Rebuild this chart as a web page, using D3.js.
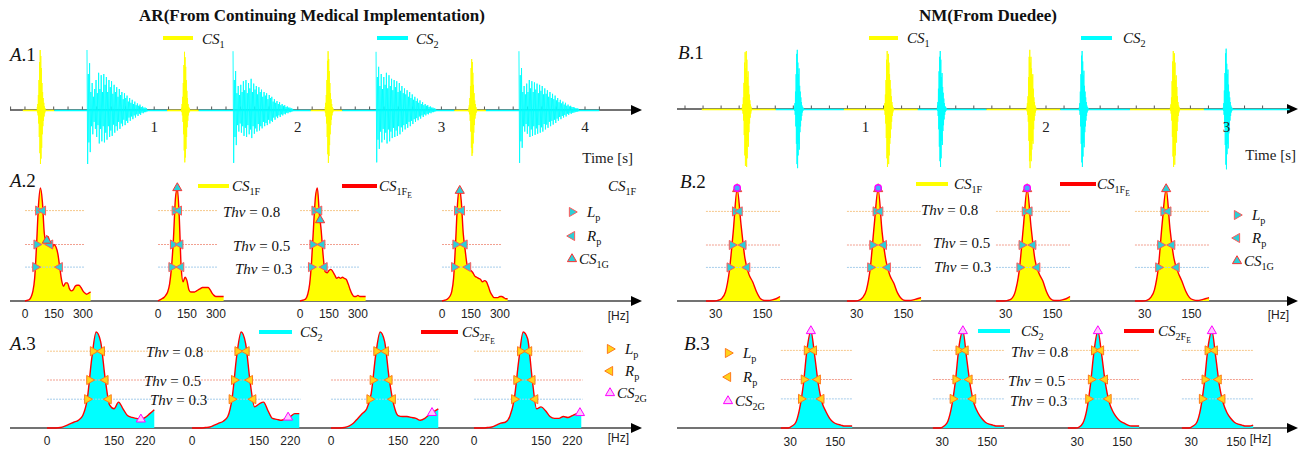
<!DOCTYPE html>
<html lang="en">
<head>
  <meta charset="UTF-8">
  <title>AR vs NM heart sounds</title>
  <script src="https://d3js.org/d3.v7.min.js"></script>
  <style>
    body { margin: 0; background: #fff; }
    svg { display: block; }
  </style>
</head>
<body>
  <svg id="fig" width="1304" height="451"></svg>

  <script>
    // ---------- data ----------
    const thresholds = [0.8, 0.5, 0.3];

    // A.1 time signal (AR): burst onsets [s] and sample amplitudes
    const aCs1Onset = [0.185, 1.19, 2.19, 3.19];
    const aCs2Onset = [0.532, 1.549, 2.545, 3.54];
    const aCs1Burst = [
      [0.05, 0.1, 0.25, 0.5, 0.8, 1.0, 0.9, 0.7, 0.45, 0.3, 0.2, 0.12, 0.06, 0.03],
      [0.04, 0.1, 0.22, 0.45, 0.75, 0.97, 0.88, 0.72, 0.5, 0.32, 0.2, 0.1, 0.05, 0.03],
      [0.05, 0.12, 0.25, 0.5, 0.82, 0.98, 0.85, 0.65, 0.45, 0.28, 0.18, 0.1, 0.05, 0.03],
      [0.04, 0.08, 0.2, 0.4, 0.7, 0.85, 0.8, 0.62, 0.42, 0.28, 0.16, 0.1, 0.05, 0.02]
    ];
    const aCs2Burst = [
      [1.0, 0.6, 0.78, 0.3, 0.45, 0.22, 0.35, 0.5, 0.28, 0.62, 0.35, 0.58, 0.3, 0.6, 0.42, 0.55, 0.3, 0.5, 0.38, 0.48, 0.27, 0.42, 0.3, 0.38, 0.22, 0.35, 0.25, 0.3, 0.18, 0.28, 0.2, 0.24, 0.14, 0.2, 0.12, 0.17, 0.1, 0.14, 0.08, 0.11, 0.07, 0.09, 0.05, 0.06, 0.04, 0.04, 0.03],
      [0.98, 0.5, 0.65, 0.28, 0.4, 0.25, 0.42, 0.3, 0.48, 0.33, 0.5, 0.28, 0.45, 0.36, 0.52, 0.3, 0.44, 0.34, 0.4, 0.26, 0.38, 0.3, 0.34, 0.22, 0.3, 0.24, 0.28, 0.18, 0.25, 0.2, 0.22, 0.14, 0.18, 0.12, 0.15, 0.1, 0.13, 0.08, 0.1, 0.07, 0.08, 0.05, 0.06, 0.04, 0.04, 0.03, 0.02],
      [0.97, 0.55, 0.72, 0.4, 0.6, 0.35, 0.55, 0.42, 0.62, 0.36, 0.58, 0.4, 0.52, 0.33, 0.5, 0.38, 0.48, 0.3, 0.45, 0.32, 0.4, 0.28, 0.36, 0.26, 0.33, 0.22, 0.3, 0.2, 0.26, 0.17, 0.22, 0.15, 0.19, 0.12, 0.16, 0.1, 0.13, 0.08, 0.1, 0.07, 0.08, 0.05, 0.06, 0.04, 0.04, 0.03, 0.02],
      [0.98, 0.58, 0.7, 0.3, 0.4, 0.26, 0.44, 0.3, 0.5, 0.36, 0.48, 0.3, 0.46, 0.34, 0.44, 0.28, 0.42, 0.32, 0.4, 0.26, 0.36, 0.27, 0.33, 0.22, 0.3, 0.2, 0.27, 0.18, 0.24, 0.16, 0.2, 0.13, 0.17, 0.11, 0.14, 0.09, 0.12, 0.07, 0.09, 0.06, 0.07, 0.05, 0.05, 0.04, 0.03, 0.03, 0.02]
    ];
    const aTimeTicks = [1, 2, 3, 4];

    // B.1 time signal (NM): burst centres [s] and sample amplitudes
    const bCs1Center = [0.343, 1.13, 1.92, 2.715];
    const bCs2Center = [0.632, 1.424, 2.21, 3.008];
    const bCs1Burst = [
      [0.03, 0.08, 0.2, 0.45, 0.8, 0.98, 0.7, 1.0, 0.85, 0.55, 0.65, 0.4, 0.25, 0.15, 0.08, 0.04],
      [0.03, 0.1, 0.25, 0.5, 0.85, 1.0, 0.75, 0.95, 0.8, 0.6, 0.5, 0.35, 0.22, 0.12, 0.06, 0.03],
      [0.04, 0.1, 0.22, 0.55, 0.9, 1.02, 0.8, 0.9, 0.7, 0.55, 0.6, 0.35, 0.2, 0.12, 0.06, 0.03],
      [0.03, 0.08, 0.2, 0.48, 0.82, 1.0, 0.72, 0.96, 0.8, 0.5, 0.58, 0.38, 0.22, 0.12, 0.06, 0.03]
    ];
    const bCs2Burst = [
      [0.03, 0.1, 0.3, 0.6, 0.95, 1.02, 0.8, 0.6, 0.7, 0.4, 0.3, 0.2, 0.12, 0.06, 0.03, 0.02],
      [0.03, 0.12, 0.35, 0.65, 0.9, 1.0, 0.85, 0.55, 0.62, 0.38, 0.28, 0.18, 0.1, 0.05, 0.03, 0.02],
      [0.03, 0.1, 0.3, 0.6, 0.92, 1.0, 0.82, 0.58, 0.66, 0.4, 0.3, 0.2, 0.12, 0.06, 0.03, 0.02],
      [0.03, 0.1, 0.32, 0.62, 0.96, 1.04, 0.78, 0.6, 0.68, 0.42, 0.3, 0.2, 0.12, 0.06, 0.03, 0.02]
    ];
    const bTimeTicks = [1, 2, 3];

    // A.2 CS1 spectra (0..340 Hz, 10 Hz bins), normalised envelope
    const a2Spectra = [
      [0, 0.005, 0.01, 0.03, 0.08, 0.2, 0.5, 0.85, 1.0, 0.88, 0.6, 0.52, 0.57, 0.5, 0.47, 0.5, 0.48, 0.42, 0.3, 0.18, 0.13, 0.16, 0.16, 0.11, 0.09, 0.1, 0.13, 0.14, 0.14, 0.12, 0.09, 0.07, 0.06, 0.07, 0.08],
      [0, 0.01, 0.02, 0.03, 0.05, 0.08, 0.15, 0.3, 0.55, 0.9, 1.0, 0.75, 0.3, 0.17, 0.21, 0.18, 0.1, 0.08, 0.08, 0.08, 0.09, 0.1, 0.11, 0.12, 0.12, 0.12, 0.12, 0.1, 0.07, 0.05, 0.04, 0.04, 0.04, 0.04, 0.04],
      [0, 0.005, 0.01, 0.02, 0.06, 0.15, 0.35, 0.65, 0.92, 1.0, 0.78, 0.62, 0.4, 0.26, 0.25, 0.27, 0.28, 0.26, 0.23, 0.2, 0.21, 0.2, 0.21, 0.2, 0.19, 0.15, 0.1, 0.06, 0.04, 0.04, 0.05, 0.04, 0.04, 0.04, 0.04],
      [0, 0.005, 0.01, 0.02, 0.04, 0.08, 0.2, 0.5, 0.85, 1.0, 0.88, 0.6, 0.45, 0.32, 0.28, 0.27, 0.25, 0.22, 0.21, 0.2, 0.19, 0.17, 0.18, 0.17, 0.13, 0.08, 0.05, 0.03, 0.03, 0.03, 0.04, 0.04, 0.03, 0.02, 0.02]
    ];
    const a2GFreq = [113, 100, 104, 92];
    const a2FreqTicks = [0, 150, 300];

    // A.3 CS2 spectra (0..240 Hz, 10 Hz bins)
    const a3Spectra = [
      [0, 0, 0, 0.005, 0.02, 0.04, 0.06, 0.08, 0.13, 0.3, 0.72, 1.0, 0.9, 0.52, 0.24, 0.2, 0.27, 0.2, 0.13, 0.11, 0.1, 0.09, 0.11, 0.15, 0.19],
      [0, 0, 0, 0.005, 0.01, 0.03, 0.05, 0.07, 0.12, 0.32, 0.75, 1.0, 0.88, 0.48, 0.22, 0.25, 0.27, 0.18, 0.1, 0.09, 0.08, 0.1, 0.12, 0.15, 0.15],
      [0, 0, 0, 0.005, 0.02, 0.05, 0.1, 0.15, 0.2, 0.36, 0.76, 1.0, 0.9, 0.52, 0.25, 0.13, 0.12, 0.12, 0.11, 0.1, 0.08, 0.1, 0.14, 0.17, 0.2],
      [0, 0, 0, 0.005, 0.01, 0.03, 0.05, 0.06, 0.12, 0.3, 0.7, 1.0, 0.93, 0.52, 0.2, 0.22, 0.18, 0.12, 0.1, 0.1, 0.12, 0.11, 0.13, 0.15, 0.16]
    ];
    const a3GFreq = [210, 215, 226, 237];
    const a3FreqTicks = [0, 150, 220];

    // B.2 / B.3 spectra (5..195 Hz, 10 Hz bins)
    const b2Spectra = [
      [0, 0, 0, 0.005, 0.02, 0.08, 0.27, 0.62, 1.0, 0.68, 0.38, 0.24, 0.17, 0.08, 0.02, 0.005, 0.005, 0.01, 0.02, 0.04],
      [0, 0, 0, 0.005, 0.03, 0.1, 0.3, 0.68, 1.0, 0.62, 0.36, 0.23, 0.16, 0.07, 0.02, 0.005, 0.005, 0.01, 0.02, 0.03],
      [0, 0, 0, 0.005, 0.02, 0.09, 0.28, 0.65, 1.0, 0.66, 0.37, 0.25, 0.18, 0.08, 0.02, 0.005, 0.005, 0.01, 0.02, 0.04],
      [0, 0, 0, 0.005, 0.03, 0.1, 0.3, 0.7, 1.0, 0.64, 0.38, 0.26, 0.18, 0.09, 0.03, 0.01, 0.005, 0.01, 0.02, 0.03]
    ];
    const b3Spectra = [
      [0, 0, 0, 0.02, 0.06, 0.2, 0.45, 0.82, 1.0, 0.75, 0.45, 0.26, 0.17, 0.1, 0.06, 0.04, 0.03, 0.02, 0.02, 0.02],
      [0, 0, 0, 0.02, 0.07, 0.22, 0.48, 0.85, 1.0, 0.72, 0.43, 0.25, 0.16, 0.1, 0.06, 0.04, 0.03, 0.02, 0.02, 0.02],
      [0, 0, 0, 0.01, 0.05, 0.18, 0.44, 0.8, 1.0, 0.76, 0.46, 0.27, 0.17, 0.11, 0.07, 0.05, 0.03, 0.02, 0.02, 0.02],
      [0, 0, 0, 0.02, 0.06, 0.2, 0.47, 0.84, 1.0, 0.74, 0.44, 0.26, 0.16, 0.1, 0.06, 0.04, 0.03, 0.02, 0.02, 0.03]
    ];
    const bGFreq = [85, 85, 85, 85];
    const bFreqTicks = [30, 150];

    // ---------- styles ----------
    const serif = "Liberation Serif";
    const sans = "Liberation Sans";
    const YEL = "#ffff00", CYA = "#00ffff", RED = "#ff0000";
    const thrColor = ["#f6c88c", "#f2a090", "#a6cdeb"];

    const svg = d3.select("#fig");

    // text with italic parts and (nested) subscripts
    // parts: [text, level(0/1/2), italic]
    function rich(x, y, parts, size, anchor, weight) {
      const t = svg.append("text")
        .attr("x", x).attr("y", y)
        .style("font-family", serif)
        .attr("font-size", size)
        .attr("text-anchor", anchor || "start")
        .attr("font-weight", weight || "normal")
        .attr("fill", "#111");
      const off = [0, size * 0.28, size * 0.45];
      const fs = [size, size * 0.68, size * 0.5];
      let cur = 0;
      parts.forEach(([s, lvl, it]) => {
        t.append("tspan")
          .attr("dy", off[lvl] - cur)
          .attr("font-size", fs[lvl])
          .attr("font-style", it ? "italic" : "normal")
          .text(s);
        cur = off[lvl];
      });
      return t;
    }

    function plain(x, y, s, size, family, anchor) {
      return svg.append("text")
        .attr("x", x).attr("y", y)
        .style("font-family", family)
        .attr("font-size", size)
        .attr("text-anchor", anchor || "middle")
        .attr("fill", "#222")
        .text(s);
    }

    // horizontal axis with arrow head
    function hAxis(x1, x2, y) {
      svg.append("line")
        .attr("x1", x1).attr("x2", x2 - 6).attr("y1", y).attr("y2", y)
        .attr("stroke", "#444").attr("stroke-width", 1.3);
      svg.append("path")
        .attr("d", `M${x2},${y} L${x2 - 11},${y - 5} L${x2 - 11},${y + 5} Z`)
        .attr("fill", "#000");
    }

    function legendLine(x1, x2, y, color) {
      svg.append("line")
        .attr("x1", x1).attr("x2", x2).attr("y1", y).attr("y2", y)
        .attr("stroke", color).attr("stroke-width", 4);
    }

    const tri = d3.symbol().type(d3.symbolTriangle).size(36);
    function marker(x, y, rot, fill, stroke) {
      svg.append("path")
        .attr("d", tri())
        .attr("transform", `translate(${x},${y}) rotate(${rot})`)
        .attr("fill", fill).attr("stroke", stroke).attr("stroke-width", 1);
    }

    // ---------- titles ----------
    rich(312, 21, [["AR(From Continuing Medical Implementation)", 0, false]], 17, "middle", "bold");
    rich(988, 21, [["NM(From Duedee)", 0, false]], 17, "middle", "bold");

    // ---------- time panels ----------
    function timePanel(cfg) {
      const x = d3.scaleLinear().domain([0, 1]).range([cfg.x0, cfg.x0 + cfg.pxPerSec]);
      const y = d3.scaleLinear().domain([-1, 1]).range(cfg.yRange);
      const y0 = y(0);

      hAxis(cfg.axisStart, cfg.axisEnd, y0);

      // minor ticks every 0.1 s
      svg.append("g").selectAll("line")
        .data(d3.range(0, cfg.tMax + 1e-9, 0.1))
        .join("line")
        .attr("x1", d => x(d)).attr("x2", d => x(d))
        .attr("y1", y0).attr("y2", y0 - 3.5)
        .attr("stroke", "#555").attr("stroke-width", 1);

      // low-level baseline of each sound between bursts
      cfg.baseline.forEach(([t1, t2, c]) => {
        svg.append("line")
          .attr("x1", x(t1)).attr("x2", x(t2))
          .attr("y1", y0 + 0.5).attr("y2", y0 + 0.5)
          .attr("stroke", c).attr("stroke-width", 1.6);
      });

      // bursts as zig-zag traces through the amplitude samples
      const line = d3.line().x(d => x(d[0])).y(d => y(d[1]));
      cfg.bursts.forEach(b => {
        const pts = [];
        b.vals.forEach((v, j) => {
          pts.push([b.t0 + j * b.dt, v]);
          pts.push([b.t0 + (j + 0.5) * b.dt, -v * cfg.neg]);
        });
        svg.append("path")
          .attr("d", line(pts))
          .attr("fill", "none")
          .attr("stroke", b.color)
          .attr("stroke-width", 0.9);
      });

      cfg.ticks.forEach(t => plain(x(t), 132, t, 15, serif));
      plain(cfg.timeLabelX, cfg.timeLabelY, "Time [s]", 15, serif, "end");
    }

    // A.1
    const aBase = [];
    aCs1Onset.forEach((t, i) => {
      aBase.push([t - 0.1, t + 0.12, YEL]);
      const next = i < aCs1Onset.length - 1 ? aCs1Onset[i + 1] - 0.1 : 4.1;
      aBase.push([t + 0.12, next, CYA]);
    });
    timePanel({
      x0: 10.6, pxPerSec: 143.6, yRange: [170, 50], neg: 0.9,
      axisStart: 10, axisEnd: 642, tMax: 4.1,
      baseline: aBase,
      bursts: aCs1Onset.map((t, i) => ({ t0: t, dt: 0.0042, vals: aCs1Burst[i], color: YEL }))
        .concat(aCs2Onset.map((t, i) => ({ t0: t, dt: 0.009, vals: aCs2Burst[i], color: CYA }))),
      ticks: aTimeTicks, timeLabelX: 633, timeLabelY: 163
    });

    // B.1
    const bBase = [];
    bCs1Center.forEach((t, i) => {
      bBase.push([t - 0.25, t + 0.16, YEL]);
      const next = i < bCs1Center.length - 1 ? bCs1Center[i + 1] - 0.25 : 3.35;
      bBase.push([t + 0.16, next, CYA]);
    });
    const bDt = 0.0033;
    timePanel({
      x0: 685, pxPerSec: 180.5, yRange: [167, 51], neg: 1,
      axisStart: 677, axisEnd: 1298, tMax: 3.2,
      baseline: bBase,
      bursts: bCs1Center.map((t, i) => ({ t0: t - bCs1Burst[i].length * bDt / 2, dt: bDt, vals: bCs1Burst[i], color: YEL }))
        .concat(bCs2Center.map((t, i) => ({ t0: t - bCs2Burst[i].length * bDt / 2, dt: bDt, vals: bCs2Burst[i], color: CYA }))),
      ticks: bTimeTicks, timeLabelX: 1296, timeLabelY: 160
    });

    // ---------- spectrum panels ----------
    function crossings(freqs, vals, thr) {
      const ip = d3.maxIndex(vals);
      let left = null, right = null;
      for (let i = ip; i > 0; i--) {
        if (vals[i - 1] < thr && vals[i] >= thr) {
          left = freqs[i - 1] + (thr - vals[i - 1]) / (vals[i] - vals[i - 1]) * (freqs[i] - freqs[i - 1]);
          break;
        }
      }
      for (let i = ip; i < vals.length - 1; i++) {
        if (vals[i] >= thr && vals[i + 1] < thr) {
          right = freqs[i] + (vals[i] - thr) / (vals[i] - vals[i + 1]) * (freqs[i + 1] - freqs[i]);
          break;
        }
      }
      return [left, right];
    }

    function spectrumPanel(cfg) {
      const y = d3.scaleLinear().domain([0, 1]).range([cfg.axisY, cfg.topY]);
      hAxis(cfg.axisStart, cfg.axisEnd, cfg.axisY);

      cfg.spectra.forEach((vals, i) => {
        const x = d3.scaleLinear().domain([0, 1]).range([cfg.x0[i], cfg.x0[i] + cfg.k]);
        const pts = cfg.freqs.map((f, j) => [f, vals[j]]);

        svg.append("path")
          .datum(pts)
          .attr("d", d3.area().curve(d3.curveMonotoneX)
            .x(d => x(d[0])).y0(cfg.axisY).y1(d => y(d[1])))
          .attr("fill", cfg.fill);

        // threshold lines
        thresholds.forEach((th, ti) => {
          svg.append("line")
            .attr("x1", x(cfg.thrDomain[0])).attr("x2", x(cfg.thrDomain[1]))
            .attr("y1", y(th)).attr("y2", y(th))
            .attr("stroke", thrColor[ti]).attr("stroke-width", 1)
            .attr("stroke-dasharray", "2,1");
        });

        svg.append("path")
          .datum(pts)
          .attr("d", d3.line().curve(d3.curveMonotoneX)
            .x(d => x(d[0])).y(d => y(d[1])))
          .attr("fill", "none")
          .attr("stroke", RED).attr("stroke-width", 1.4);

        // L_p / R_p markers on the threshold crossings
        thresholds.forEach(th => {
          const [l, r] = crossings(cfg.freqs, vals, th);
          if (l !== null) marker(x(l), y(th), 90, cfg.mFill, cfg.mStroke);
          if (r !== null) marker(x(r), y(th), -90, cfg.mFill, cfg.mStroke);
        });

        // CS_G marker
        const gf = cfg.gFreq[i];
        const gv = d3.scaleLinear().domain(cfg.freqs).range(vals)(gf);
        marker(x(gf), y(gv), 0, cfg.gFill, cfg.gStroke);
        if (cfg.peakDot && cfg.peakDot[i]) {
          svg.append("circle")
            .attr("cx", x(gf)).attr("cy", y(gv) - 1).attr("r", 3.2)
            .attr("fill", "#44aaff").attr("stroke", "#ff00ff").attr("stroke-width", 1.4);
        }

        cfg.ticks.forEach(t => plain(x(t), cfg.tickY, t, 12, sans));
      });

      plain(cfg.hzX, cfg.hzY, "[Hz]", 12, sans, "end");

      // Thv labels
      thresholds.forEach((th, ti) => {
        rich(cfg.thvX[ti], cfg.thvY[ti], [["Thv", 0, true], [" = " + th.toFixed(1), 0, false]], 15);
      });
    }

    const fA2 = d3.range(0, 341, 10);
    const fA3 = d3.range(0, 241, 10);
    const fB = d3.range(5, 196, 10);

    // A.2
    spectrumPanel({
      spectra: a2Spectra, freqs: fA2, x0: [25, 158, 300, 442], k: 0.193,
      axisY: 301, topY: 188, axisStart: 10, axisEnd: 642,
      fill: YEL, mFill: "#2ccfd6", mStroke: "#ff5a5a",
      gFreq: a2GFreq, gFill: "#2ccfd6", gStroke: "#ff3030",
      thrDomain: [0, 310], ticks: a2FreqTicks, tickY: 318,
      hzX: 629, hzY: 320,
      thvX: [223, 233, 235], thvY: [217, 251, 274]
    });

    // A.3
    spectrumPanel({
      spectra: a3Spectra, freqs: fA3, x0: [47, 192, 331, 474], k: 0.447,
      axisY: 428, topY: 332, axisStart: 10, axisEnd: 642,
      fill: CYA, mFill: "#ffd21a", mStroke: "#ff7a1a",
      gFreq: a3GFreq, gFill: "#ffc8ff", gStroke: "#ff00ff",
      thrDomain: [0, 243], ticks: a3FreqTicks, tickY: 445,
      hzX: 629, hzY: 442,
      thvX: [146, 144, 150], thvY: [357, 386, 405]
    });

    // B.2
    spectrumPanel({
      spectra: b2Spectra, freqs: fB, x0: [704, 845, 994, 1133], k: 0.39,
      axisY: 301, topY: 189, axisStart: 677, axisEnd: 1298,
      fill: YEL, mFill: "#2ccfd6", mStroke: "#ff5a5a",
      gFreq: bGFreq, gFill: "#2ccfd6", gStroke: "#ff3030", peakDot: [true, true, true, false],
      thrDomain: [5, 195], ticks: bFreqTicks, tickY: 318,
      hzX: 1289, hzY: 319,
      thvX: [921, 933, 934], thvY: [215, 248, 272]
    });

    // B.3
    spectrumPanel({
      spectra: b3Spectra, freqs: fB, x0: [779, 931, 1066, 1180], k: 0.375,
      axisY: 428, topY: 331, axisStart: 677, axisEnd: 1298,
      fill: CYA, mFill: "#ffd21a", mStroke: "#ff7a1a",
      gFreq: bGFreq, gFill: "#ffc8ff", gStroke: "#ff00ff",
      thrDomain: [5, 195], ticks: bFreqTicks, tickY: 446,
      hzX: 1271, hzY: 443,
      thvX: [1011, 1008, 1010], thvY: [357, 386, 406]
    });

    // ---------- panel labels ----------
    [["A", ".1", 10, 61], ["A", ".2", 10, 187], ["A", ".3", 10, 350],
     ["B", ".1", 678, 59], ["B", ".2", 680, 188], ["B", ".3", 684, 350]]
      .forEach(([a, b, x, y]) => rich(x, y, [[a, 0, true], [b, 0, false]], 19));

    // ---------- legends ----------
    legendLine(163, 193, 38, YEL);
    rich(202, 44, [["CS", 0, true], ["1", 1, false]], 15);
    legendLine(377, 408, 38, CYA);
    rich(416, 44, [["CS", 0, true], ["2", 1, false]], 15);

    legendLine(869, 898, 38, YEL);
    rich(907, 43, [["CS", 0, true], ["1", 1, false]], 15);
    legendLine(1081, 1112, 38, CYA);
    rich(1123, 43, [["CS", 0, true], ["2", 1, false]], 15);

    legendLine(198, 229, 186, YEL);
    rich(232, 191, [["CS", 0, true], ["1F", 1, false]], 15);
    legendLine(342, 377, 186, RED);
    rich(379, 191, [["CS", 0, true], ["1F", 1, false], ["E", 2, false]], 15);
    rich(608, 191, [["CS", 0, true], ["1F", 1, false]], 15);

    legendLine(259, 292, 332, CYA);
    rich(300, 337, [["CS", 0, true], ["2", 1, false]], 15);
    legendLine(421, 458, 332, RED);
    rich(462, 337, [["CS", 0, true], ["2F", 1, false], ["E", 2, false]], 15);

    legendLine(916, 948, 184, YEL);
    rich(954, 189, [["CS", 0, true], ["1F", 1, false]], 15);
    legendLine(1060, 1096, 184, RED);
    rich(1097, 189, [["CS", 0, true], ["1F", 1, false], ["E", 2, false]], 15);

    legendLine(978, 1010, 331, CYA);
    rich(1021, 336, [["CS", 0, true], ["2", 1, false]], 15);
    legendLine(1124, 1154, 331, RED);
    rich(1158, 336, [["CS", 0, true], ["2F", 1, false], ["E", 2, false]], 15);

    // marker legends
    function markerLegend(mx, tx, ys, lpFill, lpStroke, gFill, gStroke, gName) {
      marker(mx, ys[0], 90, lpFill, lpStroke);
      rich(tx, ys[0] + 5, [["L", 0, true], ["p", 1, false]], 15);
      marker(mx, ys[1], -90, lpFill, lpStroke);
      rich(tx, ys[1] + 5, [["R", 0, true], ["p", 1, false]], 15);
      marker(mx, ys[2], 0, gFill, gStroke);
      rich(tx - 8, ys[2] + 5, [["CS", 0, true], [gName, 1, false]], 15);
    }
    markerLegend(572, 587, [212, 236, 259], "#2ccfd6", "#ff5a5a", "#2ccfd6", "#ff3030", "1G");
    markerLegend(610, 625, [349, 371, 393], "#ffd21a", "#ff7a1a", "#ffc8ff", "#ff00ff", "2G");
    markerLegend(1237, 1252, [215, 238, 261], "#2ccfd6", "#ff5a5a", "#2ccfd6", "#ff3030", "1G");
    markerLegend(728, 743, [353, 377, 401], "#ffd21a", "#ff7a1a", "#ffc8ff", "#ff00ff", "2G");
  </script>
</body>
</html>
